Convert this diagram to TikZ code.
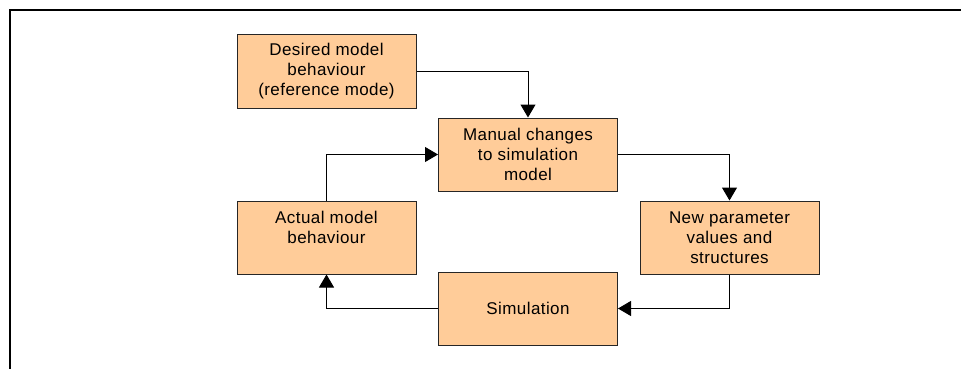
\documentclass[tikz,border=0pt]{standalone}
\usepackage{fontspec}
\setmainfont[LetterSpace = 2.5]{Liberation Sans}
\usetikzlibrary{arrows.meta}
\definecolor{boxfill}{HTML}{FFCC99}
\tikzset{
	stage/.style = {draw = black!85, line width = 1pt, fill = boxfill, minimum width = 179pt, minimum height = 73pt, inner sep = 2pt, align = center, font = \fontsize{17}{20}\selectfont},
	flow/.style = {line width = 1pt, -{Triangle[length = 13pt, width = 15pt]}}
}
\begin{document}
\begin{tikzpicture}[x = 1pt, y = -1pt]
	\useasboundingbox (0, 0) rectangle (961, 369);
	\draw[line width = 2.2pt] (10, 369) -- (10, 10) -- (961, 10);
	\node[stage] (desired) at (326.5, 71.5) {Desired model\\behaviour\\(reference mode)};
	\node[stage] (manual) at (528, 154.5) {Manual changes\\to simulation\\model};
	\node[stage] (actual) at (326.5, 237.5) {Actual model\\behaviour\\~};
	\node[stage] (params) at (729.5, 237.5) {New parameter\\values and\\structures};
	\node[stage] (sim) at (528, 308.5) {Simulation};
	\draw[flow] (desired) -| (manual);
	\draw[flow] (manual) -| (params);
	\draw[flow] (params) |- (sim);
	\draw[flow] (sim) -| (actual);
	\draw[flow] (actual) |- (manual);
\end{tikzpicture}
\end{document}
